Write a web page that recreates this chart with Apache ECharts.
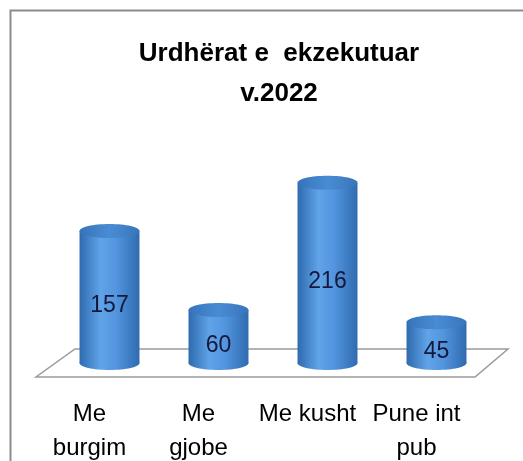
<!DOCTYPE html>
<html>
<head>
<meta charset="utf-8">
<script src="https://cdn.jsdelivr.net/npm/echarts@6/dist/echarts.min.js"></script>
<style>
  html, body { margin: 0; padding: 0; background: #fff; }
  #chart { width: 523px; height: 461px; }
</style>
</head>
<body>
<div id="chart"></div>
<script>
  // te dhenat
  var categories = ['Me\nburgim', 'Me\ngjobe', 'Me kusht', 'Pune int\npub'];
  var values = [157, 60, 216, 45];

  var chart = echarts.init(document.getElementById('chart'));

  var bodyGradient = new echarts.graphic.LinearGradient(0, 0, 1, 0, [
    { offset: 0, color: '#2e6aae' },
    { offset: 0.35, color: '#60a3e8' },
    { offset: 0.6, color: '#5396df' },
    { offset: 1, color: '#2f6bb0' }
  ]);
  var topGradient = new echarts.graphic.LinearGradient(0, 0, 1, 0, [
    { offset: 0, color: '#3674ba' },
    { offset: 0.5, color: '#498cd4' },
    { offset: 1, color: '#3875bb' }
  ]);

  // cilindri per secilen kategori
  function renderCylinder(params, api) {
    var top = api.coord([api.value(0), api.value(1)]);
    var base = api.coord([api.value(0), 0]);
    var rx = api.size([1, 0])[0] * 0.55 / 2;
    var ry = 7;
    var cx = top[0];
    var bottom = base[1] + 4;
    return {
      type: 'group',
      children: [
        { type: 'ellipse', shape: { cx: cx, cy: bottom, rx: rx, ry: ry }, style: { fill: bodyGradient } },
        { type: 'rect', shape: { x: cx - rx, y: top[1], width: rx * 2, height: bottom - top[1] }, style: { fill: bodyGradient } },
        { type: 'ellipse', shape: { cx: cx, cy: top[1], rx: rx, ry: ry }, style: { fill: topGradient } },
        {
          type: 'text',
          style: {
            text: String(api.value(1)),
            x: cx, y: (top[1] + base[1]) / 2 + 11,
            align: 'center', verticalAlign: 'middle',
            fill: '#15183a', fontSize: 23, fontFamily: 'Liberation Sans'
          }
        }
      ]
    };
  }

  // dyshemeja 3D poshte shtyllave
  function renderFloor(params, api) {
    var cs = params.coordSys;
    var base = api.coord([0, 0])[1];
    return {
      type: 'polygon',
      shape: {
        points: [
          [cs.x - 19, base + 18],
          [cs.x + cs.width - 16, base + 18],
          [cs.x + cs.width + 17, base - 10],
          [cs.x + 20, base - 10]
        ]
      },
      style: { fill: '#fff', stroke: '#9a9a9a', lineWidth: 1.5 }
    };
  }

  chart.setOption({
    animation: false,
    title: {
      text: 'Urdhërat e  ekzekutuar\nv.2022',
      left: 274,
      top: 29,
      textAlign: 'center',
      textStyle: {
        fontFamily: 'Liberation Sans',
        fontWeight: 'bold',
        fontSize: 26,
        lineHeight: 40,
        color: '#000'
      }
    },
    graphic: [{
      type: 'polyline',
      shape: { points: [[10.5, 461], [10.5, 10.5], [523, 10.5]] },
      style: { stroke: '#8c8c8c', lineWidth: 2, fill: null }
    }],
    grid: { left: 55, right: 32, top: 155, bottom: 102, outerBoundsMode: 'none', containLabel: false },
    xAxis: {
      type: 'category',
      data: categories,
      axisLine: { show: false },
      axisTick: { show: false },
      axisLabel: {
        interval: 0,
        margin: 38,
        padding: [0, 40, 0, 0],
        fontFamily: 'Liberation Sans',
        fontSize: 24,
        lineHeight: 34,
        color: '#000'
      }
    },
    yAxis: {
      type: 'value',
      min: 0,
      max: 250,
      show: false,
      splitLine: { show: false }
    },
    series: [
      {
        type: 'custom',
        renderItem: renderFloor,
        data: [[0, 0]],
        z: 1,
        silent: true
      },
      {
        type: 'custom',
        renderItem: renderCylinder,
        data: values.map(function (v, i) { return [i, v]; }),
        z: 2
      }
    ]
  });
</script>
</body>
</html>
